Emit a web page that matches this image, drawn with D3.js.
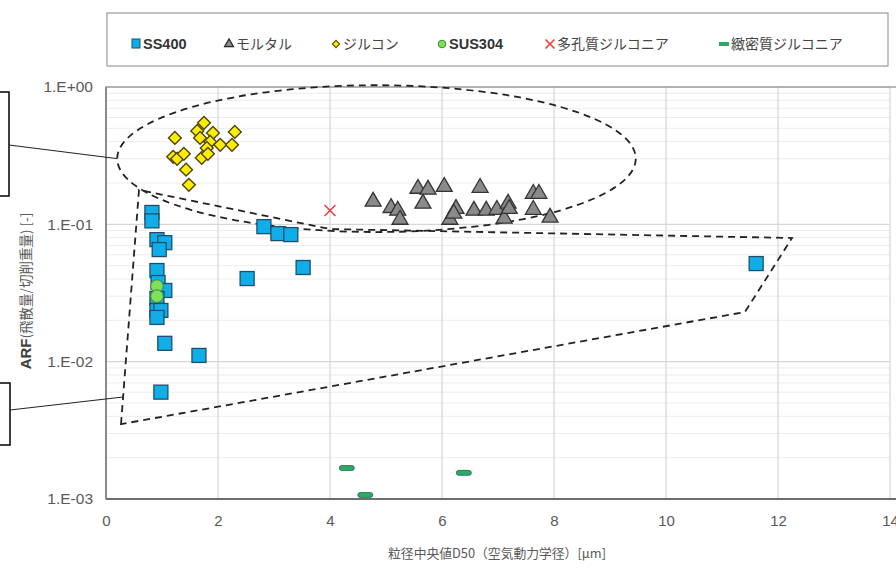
<!DOCTYPE html>
<html><head><meta charset="utf-8">
<script src="https://cdn.jsdelivr.net/npm/d3@7"></script>
<style>
html,body{margin:0;padding:0;background:#fff;}
svg{display:block;}
</style></head>
<body>
<svg id="chart" width="896" height="568"></svg>
<script>
// ---------- data ----------
const xTicks = [0, 2, 4, 6, 8, 10, 12, 14];
const yTicks = [1e-3, 1e-2, 1e-1, 1];
const yTickLabels = ["1.E-03", "1.E-02", "1.E-01", "1.E+00"];
const seriesNames = ["SS400", "モルタル", "ジルコン", "SUS304", "多孔質ジルコニア", "緻密質ジルコニア"];

const ss400X = [0.82, 0.82, 2.82, 3.07, 3.30, 3.52, 2.52, 0.91, 1.05, 0.95, 0.91, 0.93, 1.05, 0.91, 0.91, 0.98, 0.91, 1.05, 1.66, 0.98, 11.61];
const ss400Y = [0.122, 0.106, 0.0962, 0.0856, 0.0842, 0.0485, 0.0403, 0.0774, 0.0736, 0.0655, 0.0461, 0.0377, 0.033, 0.0289, 0.0236, 0.0236, 0.021, 0.0136, 0.0111, 0.0060, 0.0518];

const mortarX = [4.77, 5.09, 5.21, 5.25, 5.57, 5.75, 5.66, 6.04, 6.68, 6.14, 6.25, 6.21, 6.57, 6.79, 6.98, 7.18, 7.11, 7.20, 7.63, 7.73, 7.63, 7.93];
const mortarY = [0.149, 0.134, 0.128, 0.110, 0.185, 0.182, 0.144, 0.191, 0.188, 0.110, 0.132, 0.122, 0.128, 0.128, 0.130, 0.144, 0.112, 0.132, 0.170, 0.170, 0.130, 0.114];

const zirconX = [1.23, 1.75, 1.63, 1.68, 1.91, 2.30, 1.86, 2.04, 2.25, 1.80, 1.20, 1.27, 1.39, 1.71, 1.82, 1.43, 1.48];
const zirconY = [0.426, 0.548, 0.479, 0.426, 0.463, 0.471, 0.399, 0.379, 0.379, 0.360, 0.310, 0.300, 0.326, 0.305, 0.326, 0.250, 0.194];

const sus304X = [0.91, 0.91];
const sus304Y = [0.0355, 0.0300];

const porousZrX = [4.0];
const porousZrY = [0.126];

const denseZrX = [4.30, 4.63, 6.39];
const denseZrY = [0.00168, 0.00107, 0.00155];

// annotation shapes (data units)
const ellipseBounds = {x0: 0.2, x1: 9.46, yTop: 1.03, yBottom: 0.0879};
const polyX = [0.268, 0.589, 4.0, 12.25, 11.41];
const polyY = [0.00351, 0.178, 0.0924, 0.0795, 0.0230];

// ---------- layout ----------
const svg = d3.select("#chart");
const L = 106, R = 890, T = 87, B = 499;
const x = d3.scaleLinear().domain([0, 14]).range([L, R]);
const y = d3.scaleLog().domain([1e-3, 1]).range([B, T]);

const jp = "'Noto Sans CJK JP','Noto Sans',sans-serif";
const lat = "'Liberation Sans',Arial,sans-serif";

svg.append("clipPath").attr("id", "clip").append("rect")
  .attr("x", L).attr("y", T - 10).attr("width", R - L + 10).attr("height", B - T + 12);

// minor grid
const minor = [];
for (let d = -3; d < 0; d++) for (let k = 2; k <= 9; k++) minor.push(k * Math.pow(10, d));
svg.append("g").selectAll("line").data(minor).join("line")
  .attr("x1", L).attr("x2", R).attr("y1", d => y(d)).attr("y2", d => y(d))
  .attr("stroke", "#ececec").attr("stroke-width", 1);
// major grid
svg.append("g").selectAll("line").data(yTicks).join("line")
  .attr("x1", L).attr("x2", R).attr("y1", d => y(d)).attr("y2", d => y(d))
  .attr("stroke", "#d6d6d6").attr("stroke-width", 1.2);
svg.append("g").selectAll("line").data(xTicks.slice(1)).join("line")
  .attr("x1", d => x(d)).attr("x2", d => x(d)).attr("y1", T).attr("y2", B)
  .attr("stroke", "#d6d6d6").attr("stroke-width", 1.2);

// plot border
svg.append("rect").attr("x", L).attr("y", T).attr("width", R - L + 10).attr("height", B - T)
  .attr("fill", "none").attr("stroke", "#8c8c8c").attr("stroke-width", 1.2);
svg.append("line").attr("x1", L).attr("x2", 896).attr("y1", B).attr("y2", B)
  .attr("stroke", "#6e6e6e").attr("stroke-width", 2);
svg.append("line").attr("x1", L).attr("x2", L).attr("y1", T).attr("y2", B)
  .attr("stroke", "#7a7a7a").attr("stroke-width", 1.5);

// axes labels
const xAxis = d3.axisBottom(x).tickValues(xTicks).tickSize(0).tickPadding(16).tickFormat(d3.format("d"));
const gx = svg.append("g").attr("transform", `translate(0,${B})`).call(xAxis);
gx.select(".domain").remove();
gx.selectAll("text").attr("font-family", lat).attr("font-size", 15).attr("fill", "#595959");

const yAxis = d3.axisLeft(y).tickValues(yTicks).tickSize(0).tickPadding(13)
  .tickFormat((d, i) => yTickLabels[i]);
const gy = svg.append("g").attr("transform", `translate(${L},0)`).call(yAxis);
gy.select(".domain").remove();
gy.selectAll("text").attr("font-family", lat).attr("font-size", 15.5).attr("fill", "#595959");

// axis titles
svg.append("text").attr("x", 497).attr("y", 558).attr("text-anchor", "middle")
  .attr("font-family", jp).attr("font-size", 12.8).attr("fill", "#595959")
  .text("粒径中央値D50（空気動力学径）[μm]");
const yt = svg.append("text").attr("transform", "translate(31,291) rotate(-90)")
  .attr("text-anchor", "middle").attr("font-family", jp).attr("font-size", 13.5).attr("fill", "#595959");
yt.append("tspan").attr("font-family", lat).attr("font-weight", "bold").attr("fill", "#404040").attr("font-size", 15).text("ARF");
yt.append("tspan").text("(飛散量/切削重量) [-]");

// ---------- annotation shapes ----------
const ecx = (x(ellipseBounds.x0) + x(ellipseBounds.x1)) / 2;
const ecy = (y(ellipseBounds.yTop) + y(ellipseBounds.yBottom)) / 2;
const erx = (x(ellipseBounds.x1) - x(ellipseBounds.x0)) / 2;
const ery = (y(ellipseBounds.yBottom) - y(ellipseBounds.yTop)) / 2;
svg.append("ellipse").attr("cx", ecx).attr("cy", ecy).attr("rx", erx).attr("ry", ery)
  .attr("fill", "none").attr("stroke", "#222").attr("stroke-width", 1.8).attr("stroke-dasharray", "7,5");
const polyPts = polyX.map((v, i) => [x(v), y(polyY[i])]);
svg.append("path").attr("d", d3.line()(polyPts) + "Z")
  .attr("fill", "none").attr("stroke", "#222").attr("stroke-width", 1.8).attr("stroke-dasharray", "7,5");

// callout boxes (partially off canvas at left)
svg.append("rect").attr("x", -5).attr("y", 92).attr("width", 14).attr("height", 104)
  .attr("fill", "none").attr("stroke", "#111").attr("stroke-width", 1.6);
svg.append("line").attr("x1", 9).attr("y1", 145).attr("x2", ecx - erx).attr("y2", ecy)
  .attr("stroke", "#222").attr("stroke-width", 1);
svg.append("rect").attr("x", -5).attr("y", 383).attr("width", 15).attr("height", 62)
  .attr("fill", "none").attr("stroke", "#111").attr("stroke-width", 1.6);
{
  const p0 = polyPts[0], p1 = polyPts[1];
  const ty = 397, t = (ty - p0[1]) / (p1[1] - p0[1]);
  svg.append("line").attr("x1", 10).attr("y1", 410).attr("x2", p0[0] + t * (p1[0] - p0[0])).attr("y2", ty)
    .attr("stroke", "#222").attr("stroke-width", 1);
}

// ---------- markers ----------
const g = svg.append("g").attr("clip-path", "url(#clip)");
const zip = (xs, ys) => xs.map((v, i) => ({x: v, y: ys[i]}));

function drawSymbol(sel, type, size, fill, stroke, sw) {
  sel.attr("d", d3.symbol().type(type).size(size)).attr("fill", fill).attr("stroke", stroke).attr("stroke-width", sw);
}

// モルタル triangles
g.selectAll(".tri").data(zip(mortarX, mortarY)).join("path").attr("class", "tri")
  .attr("transform", d => `translate(${x(d.x)},${y(d.y) + 1})`)
  .call(drawSymbol, d3.symbolTriangle, 110, "#8a8a8a", "#333", 1.3);

// ジルコン diamonds
g.selectAll(".dia").data(zip(zirconX, zirconY)).join("path").attr("class", "dia")
  .attr("transform", d => `translate(${x(d.x)},${y(d.y)}) rotate(45)`)
  .call(drawSymbol, d3.symbolSquare, 82, "#ffee00", "#4d4600", 1.4);

// SS400 squares
g.selectAll(".sq").data(zip(ss400X, ss400Y)).join("rect").attr("class", "sq")
  .attr("x", d => x(d.x) - 7).attr("y", d => y(d.y) - 7).attr("width", 14).attr("height", 14)
  .attr("fill", "#10aee8").attr("stroke", "#1f4e6b").attr("stroke-width", 1.3);

// SUS304 circles
g.selectAll(".cir").data(zip(sus304X, sus304Y)).join("circle").attr("class", "cir")
  .attr("cx", d => x(d.x)).attr("cy", d => y(d.y)).attr("r", 6.3)
  .attr("fill", "#7ee05a").attr("stroke", "#3c8a2a").attr("stroke-width", 1);

// 多孔質ジルコニア X
zip(porousZrX, porousZrY).forEach(d => {
  const cx = x(d.x), cy = y(d.y), s = 5.5;
  g.append("path").attr("d", `M${cx - s},${cy - s}L${cx + s},${cy + s}M${cx - s},${cy + s}L${cx + s},${cy - s}`)
    .attr("stroke", "#e8403a").attr("stroke-width", 1.5);
});

// 緻密質ジルコニア dashes
g.selectAll(".dash").data(zip(denseZrX, denseZrY)).join("rect").attr("class", "dash")
  .attr("x", d => x(d.x) - 7.5).attr("y", d => y(d.y) - 2.5).attr("width", 15).attr("height", 5).attr("rx", 2.5)
  .attr("fill", "#2fa66a").attr("stroke", "#1e6e45").attr("stroke-width", 0.8);

// ---------- legend ----------
svg.append("rect").attr("x", 107).attr("y", 13).attr("width", 781).attr("height", 53)
  .attr("fill", "#fff").attr("stroke", "#9a9a9a").attr("stroke-width", 1.2);
const legX = [136, 229, 336, 442, 550, 724];
const ly = 44;
const lg = svg.append("g");
seriesNames.forEach((name, i) => {
  const cx = legX[i];
  if (i === 0) lg.append("rect").attr("x", cx - 4).attr("y", ly - 5).attr("width", 8).attr("height", 9)
      .attr("fill", "#10aee8").attr("stroke", "#1f4e6b").attr("stroke-width", 1);
  if (i === 1) lg.append("path").attr("transform", `translate(${cx},${ly})`)
      .attr("d", d3.symbol().type(d3.symbolTriangle).size(34)).attr("fill", "#8a8a8a").attr("stroke", "#222").attr("stroke-width", 1.2);
  if (i === 2) lg.append("path").attr("transform", `translate(${cx},${ly}) rotate(45)`)
      .attr("d", d3.symbol().type(d3.symbolSquare).size(26)).attr("fill", "#ffee00").attr("stroke", "#5a5200").attr("stroke-width", 1.1);
  if (i === 3) lg.append("circle").attr("cx", cx).attr("cy", ly).attr("r", 3.8)
      .attr("fill", "#7ee05a").attr("stroke", "#3c8a2a").attr("stroke-width", 1);
  if (i === 4) lg.append("path").attr("d", `M${cx - 4.5},${ly - 4.5}L${cx + 4.5},${ly + 4.5}M${cx - 4.5},${ly + 4.5}L${cx + 4.5},${ly - 4.5}`)
      .attr("stroke", "#e8403a").attr("stroke-width", 1.6);
  if (i === 5) lg.append("rect").attr("x", cx - 5).attr("y", ly - 2).attr("width", 10).attr("height", 4)
      .attr("fill", "#2fa66a");
  const isLatin = /^[A-Z0-9]+$/.test(name);
  lg.append("text").attr("x", cx + 7).attr("y", ly + 5)
    .attr("font-family", isLatin ? lat : jp).attr("font-size", isLatin ? 14.5 : 14)
    .attr("font-weight", isLatin ? "bold" : "normal")
    .attr("fill", isLatin ? "#333" : "#444").text(name);
});
</script>
</body></html>
